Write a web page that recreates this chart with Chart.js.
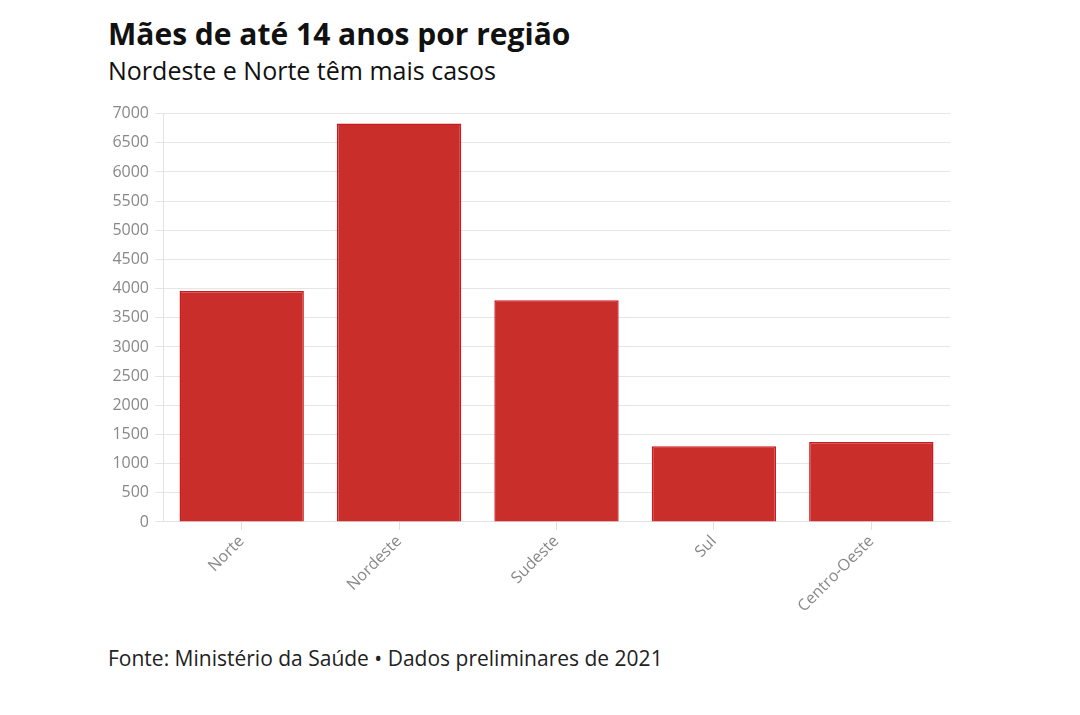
<!DOCTYPE html>
<html>
<head>
<meta charset="utf-8">
<script src="https://cdn.jsdelivr.net/npm/chart.js@4"></script>
<style>
  body { margin: 0; background: #fff; font-family: "Open Sans", sans-serif; }
  #wrap { position: relative; width: 1080px; height: 715px; }
  #title { position: absolute; left: 108px; top: 13px; font-size: 30px; font-weight: bold; color: #111; }
  #subtitle { position: absolute; left: 108px; top: 53px; font-size: 25px; color: #111; }
  #footer { position: absolute; left: 108px; top: 644px; font-size: 21px; color: #222; }
  #box { position: absolute; left: 100px; top: 98px; width: 860px; height: 520px; }
</style>
</head>
<body>
<div id="wrap">
  <div id="title">Mães de até 14 anos por região</div>
  <div id="subtitle">Nordeste e Norte têm mais casos</div>
  <div id="box"><canvas id="chart"></canvas></div>
  <div id="footer">Fonte: Ministério da Saúde • Dados preliminares de 2021</div>
</div>
<script>
// regions and counts
const regions = ['Norte', 'Nordeste', 'Sudeste', 'Sul', 'Centro-Oeste'];
const mothers = [3960, 6830, 3800, 1300, 1370];

const ctx = document.querySelector('#chart').getContext('2d');
const chart = new Chart(ctx, {
    type: 'bar',
    data: {
        labels: regions,
        datasets: [{
            label: 'Mães',
            data: mothers,
            backgroundColor: '#c92e2a',
            borderColor: '#cc1a1c',
            borderWidth: 1.5,
            categoryPercentage: 1,
            barPercentage: 0.79
        }]
    },
    options: {
        responsive: true,
        maintainAspectRatio: false,
        animation: false,
        layout: { padding: { top: 6, right: 10, bottom: 0, left: 0 } },
        plugins: { legend: { display: false }, tooltip: { enabled: false } },
        scales: {
            x: {
                grid: { drawOnChartArea: false, offset: false, color: '#e0e0e0', tickLength: 8 },
                border: { color: '#e3e3e3' },
                ticks: {
                    color: '#888',
                    font: { family: 'Open Sans', size: 16 },
                    minRotation: 45, maxRotation: 45,
                    padding: 2
                }
            },
            y: {
                min: 0, max: 7000,
                afterFit: (scale) => { scale.width = 63; },
                grid: { color: '#e6e6e6', tickLength: 8 },
                border: { color: '#e3e3e3' },
                ticks: {
                    stepSize: 500,
                    color: '#888',
                    font: { family: 'Open Sans', size: 16 },
                    padding: 6,
                    callback: (v) => String(v)
                }
            }
        }
    }
});
</script>
</body>
</html>
